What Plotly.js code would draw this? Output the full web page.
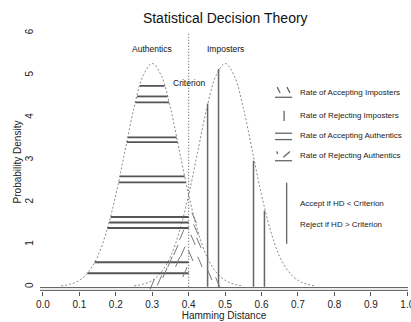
<!DOCTYPE html>
<html><head><meta charset="utf-8">
<script src="https://cdn.plot.ly/plotly-3.0.1.min.js"></script>
<style>html,body{margin:0;padding:0;background:#fff}#chart{width:411px;height:322px}</style>
</head><body><div id="chart"></div>
<script>
// ---- data ----
const authX = [0.05,0.075,0.1,0.125,0.15,0.175,0.2,0.225,0.25,0.275,0.3,0.325,0.35,0.375,0.4,0.425,0.45,0.475,0.5,0.525,0.55];
const authY = [0.02,0.06,0.15,0.35,0.71,1.32,2.17,3.20,4.23,4.99,5.28,4.99,4.23,3.20,2.17,1.32,0.71,0.35,0.15,0.06,0.02];
const impX  = [0.25,0.275,0.3,0.325,0.35,0.375,0.4,0.425,0.45,0.475,0.5,0.525,0.55,0.575,0.6,0.625,0.65,0.675,0.7,0.725,0.75];
const impY  = [0.02,0.06,0.15,0.35,0.71,1.32,2.17,3.20,4.23,4.99,5.28,4.99,4.23,3.20,2.17,1.32,0.71,0.35,0.15,0.06,0.02];
// Rate of Accepting Authentics: horizontal strokes (height, left end, right end)
const accAuthY  = [4.75,4.50,4.36,3.53,3.42,2.61,2.47,1.65,1.52,1.39,0.58,0.32];
const accAuthX0 = [0.266,0.258,0.254,0.233,0.230,0.211,0.208,0.186,0.182,0.177,0.142,0.122];
const accAuthX1 = [0.334,0.342,0.346,0.367,0.370,0.389,0.392,0.400,0.400,0.400,0.400,0.400];
// Rate of Rejecting Imposters: vertical strokes
const rejImpX = [0.452,0.482,0.578,0.608];
const rejImpY = [4.33,5.15,2.98,1.80];
// Rate of Accepting Imposters: hatch stroke centres
const accImpX = [0.381,0.365,0.384,0.349,0.370,0.335,0.390,0.320,0.300];
const accImpY = [1.23,0.87,0.83,0.59,0.59,0.33,0.35,0.15,0.06];
// Rate of Rejecting Authentics: hatch stroke centres
const rejAuthX = [0.415,0.420,0.412,0.428,0.406,0.431,0.458,0.480];
const rejAuthY = [1.63,1.35,1.11,1.04,0.73,0.59,0.28,0.10];
const criterion = 0.4;
const xTickVals = [0,0.1,0.2,0.3,0.4,0.5,0.6,0.7,0.8,0.9,1.0];
const xTickText = ["0.0","0.1","0.2","0.3","0.4","0.5","0.6","0.7","0.8","0.9","1.0"];
const yTickVals = [0,1,2,3,4,5,6];
const yTickText = ["0","1","2","3","4","5","6"];
const legendLabels = ["Rate of Accepting Imposters","Rate of Rejecting Imposters","Rate of Accepting Authentics","Rate of Rejecting Authentics"];
const ruleLabels = ["Accept if HD < Criterion","Reject if HD > Criterion"];

// ---- drawing ----
const FONT = "Liberation Sans, Arial, Helvetica, sans-serif";
function segs(pairs){const x=[],y=[];pairs.forEach(p=>{x.push(p[0],p[2],null);y.push(p[1],p[3],null);});return {x,y};}
const traces = [];
const dashStyle = {color:"#8a8a8a",width:1,dash:"2px,2px"};
traces.push({x:authX,y:authY,mode:"lines",line:Object.assign({shape:"spline"},dashStyle),hoverinfo:"skip"});
traces.push({x:impX,y:impY,mode:"lines",line:Object.assign({shape:"spline"},dashStyle),hoverinfo:"skip"});
// criterion
traces.push({x:[criterion,criterion],y:[0,6],mode:"lines",line:{color:"#555",width:1,dash:"1px,2px"},hoverinfo:"skip"});
// horizontal accept-authentic strokes
let h = segs(accAuthY.map((v,i)=>[accAuthX0[i],v,accAuthX1[i],v]));
traces.push({x:h.x,y:h.y,mode:"lines",line:{color:"#555",width:1.8},hoverinfo:"skip"});
// vertical reject-imposter strokes
let v = segs(rejImpX.map((x,i)=>[x,0,x,rejImpY[i]]));
traces.push({x:v.x,y:v.y,mode:"lines",line:{color:"#666",width:1.5},hoverinfo:"skip"});
// hatches
const dx=0.006, dy=0.12;
let ha = segs(accImpX.map((x,i)=>[x-dx,accImpY[i]-dy,x+dx,accImpY[i]+dy]));
traces.push({x:ha.x,y:ha.y,mode:"lines",line:{color:"#777",width:1},hoverinfo:"skip"});
let hr = segs(rejAuthX.map((x,i)=>[x-dx,rejAuthY[i]+dy,x+dx,rejAuthY[i]-dy]));
traces.push({x:hr.x,y:hr.y,mode:"lines",line:{color:"#777",width:1},hoverinfo:"skip"});
// baseline double line
traces.push({x:[-0.008,1.002,null,-0.008,1.002],y:[-0.02,-0.02,null,-0.085,-0.085],mode:"lines",line:{color:"#555",width:1},hoverinfo:"skip",cliponaxis:false});

// legend symbols (style positions)
const LX0=0.637, LX1=0.684, LXM=0.662;
const legY=[4.60,4.04,3.57,3.10];
const sym=[];
sym.push([LX0+0.006,legY[0]+0.12,LX0+0.014,legY[0]-0.02],[LX1-0.014,legY[0]+0.12,LX1-0.006,legY[0]-0.02],[LX0,legY[0]-0.12,LX1,legY[0]-0.12]);
sym.push([LXM,legY[1]-0.12,LXM,legY[1]+0.12]);
sym.push([LX0,legY[2]+0.06,LX1,legY[2]+0.06],[LX0,legY[2]-0.09,LX1,legY[2]-0.09]);
sym.push([LX0+0.004,legY[3]+0.10,LX0+0.008,legY[3]+0.04],[LX1-0.024,legY[3]-0.04,LX1-0.006,legY[3]+0.10],[LX0,legY[3]-0.12,LX1,legY[3]-0.12]);
sym.push([0.669,1.02,0.669,2.46]);
let s = segs(sym);
traces.push({x:s.x,y:s.y,mode:"lines",line:{color:"#666",width:1.3},hoverinfo:"skip"});

const ann = [];
const tf = {family:FONT,size:8,color:"#222"};
legendLabels.forEach((t,i)=>ann.push({x:0.70,y:legY[i],text:t,showarrow:false,xanchor:"left",yanchor:"middle",font:tf}));
ruleLabels.forEach((t,i)=>ann.push({x:0.70,y:[1.96,1.47][i],text:t,showarrow:false,xanchor:"left",yanchor:"middle",font:tf}));
const lf = {family:FONT,size:8.5,color:"#111"};
ann.push({x:0.30,y:5.63,text:"Authentics",showarrow:false,xanchor:"center",yanchor:"middle",font:lf});
ann.push({x:0.502,y:5.63,text:"Imposters",showarrow:false,xanchor:"center",yanchor:"middle",font:lf});
ann.push({x:0.40,y:4.82,text:"Criterion",showarrow:false,xanchor:"center",yanchor:"middle",font:lf});

const layout = {
  width:411,height:322,showlegend:false,
  paper_bgcolor:"#fff",plot_bgcolor:"#fff",
  margin:{l:40,r:3,t:33,b:31},
  title:{text:"Statistical Decision Theory",x:0.548,xanchor:"center",y:0.944,yanchor:"middle",font:{family:FONT,size:14,color:"#111"}},
  xaxis:{range:[-0.008,1.002],tickvals:xTickVals,ticktext:xTickText,showgrid:false,zeroline:false,showline:false,
    ticks:"outside",ticklen:4,tickcolor:"#555",tickfont:{family:FONT,size:10,color:"#222"},ticklabeloverflow:"allow",
    title:{text:"Hamming Distance",standoff:1,font:{family:FONT,size:10,color:"#222"}},automargin:false},
  yaxis:{range:[-0.1,6],tickvals:yTickVals,ticktext:yTickText,tickangle:-90,showgrid:false,zeroline:false,showline:false,
    ticks:"",tickfont:{family:FONT,size:10,color:"#222"},ticklabelstandoff:4,
    title:{text:"Probability Density",standoff:0,font:{family:FONT,size:10,color:"#222"}},automargin:false},
  annotations:ann
};
Plotly.newPlot("chart",traces,layout,{staticPlot:true,displayModeBar:false});
</script></body></html>
